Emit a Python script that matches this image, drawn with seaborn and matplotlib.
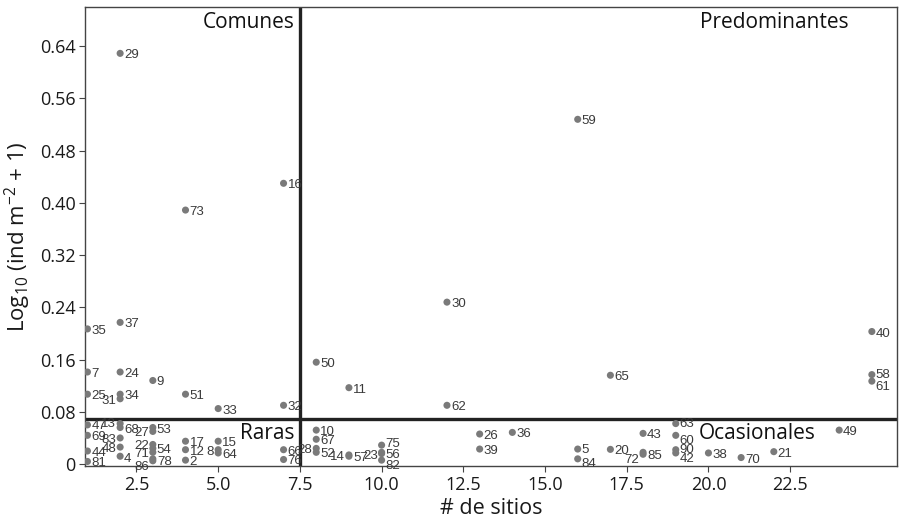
import matplotlib
matplotlib.use("Agg")
import matplotlib.pyplot as plt
import seaborn as sns
import pandas as pd

# ---- data ----
labels = [29, 16, 73, 59, 30, 40, 37, 35, 7, 24, 9, 25, 31, 34, 51, 33, 32, 50, 11, 65, 62, 58, 61,
          49, 63, 60, 43, 5, 84, 20, 72, 85, 90, 42, 38, 70, 21, 26, 36, 39,
          10, 67, 28, 52, 14, 57, 23, 75, 56, 82,
          47, 69, 44, 81, 4, 13, 68, 83, 48, 27, 53, 22, 54, 71, 86, 78,
          17, 12, 2, 8, 15, 64, 66, 76]
sitios = [2, 7, 4, 16, 12, 25, 2, 1, 1, 2, 3, 1, 2, 2, 4, 5, 7, 8, 9, 17, 12, 25, 25,
          24, 19, 19, 18, 16, 16, 17, 18, 18, 19, 19, 20, 21, 22, 13, 14, 13,
          8, 8, 8, 8, 9, 9, 10, 10, 10, 10,
          1, 1, 1, 1, 2, 2, 2, 2, 2, 3, 3, 3, 3, 3, 3, 3,
          4, 4, 4, 5, 5, 5, 7, 7]
densidad = [0.629, 0.430, 0.389, 0.528, 0.248, 0.203, 0.217, 0.207, 0.141, 0.141, 0.128, 0.107, 0.100,
            0.107, 0.107, 0.085, 0.090, 0.156, 0.117, 0.136, 0.090, 0.137, 0.127,
            0.052, 0.062, 0.044, 0.047, 0.023, 0.008, 0.0225, 0.015, 0.018, 0.022, 0.017, 0.017, 0.010,
            0.019, 0.046, 0.0485, 0.023,
            0.052, 0.038, 0.024, 0.018, 0.014, 0.012, 0.016, 0.029, 0.018, 0.006,
            0.060, 0.044, 0.020, 0.004, 0.012, 0.062, 0.056, 0.040, 0.026, 0.050, 0.056, 0.030, 0.024,
            0.018, 0.005, 0.008,
            0.035, 0.022, 0.006, 0.022, 0.035, 0.017, 0.022, 0.007]

x_cut = 7.5
y_cut = 0.069
x_ticks = [2.5, 5.0, 7.5, 10.0, 12.5, 15.0, 17.5, 20.0, 22.5]
y_ticks = [0, 0.08, 0.16, 0.24, 0.32, 0.40, 0.48, 0.56, 0.64]
y_ticklabels = ["0", "0.08", "0.16", "0.24", "0.32", "0.40", "0.48", "0.56", "0.64"]
quadrants = ["Comunes", "Predominantes", "Raras", "Ocasionales"]

# label placement (repel-like): labels set to the left of their point, and small vertical nudges (px)
left_labels = {31, 13, 83, 48, 27, 22, 71, 86, 8, 28, 14, 23, 72}
label_dy = {58: 2, 61: -4, 63: 2, 60: -4, 90: 2, 42: -4, 72: -4, 85: -2, 75: 3, 56: -1, 82: -4,
            5: 1, 84: -3, 47: 1, 13: 2, 4: -1, 86: -4, 78: -1}

df = pd.DataFrame({"label": labels, "sitios": sitios, "dens": densidad})

sns.set_theme(style="white")
plt.rcParams["font.family"] = ["Open Sans", "DejaVu Sans"]
plt.rcParams["mathtext.fontset"] = "custom"
plt.rcParams["mathtext.rm"] = "Open Sans"
plt.rcParams["mathtext.it"] = "Open Sans"

fig = plt.figure(figsize=(8.99, 5.27), dpi=100)
ax = fig.add_axes([0.0951, 0.1157, 0.9027, 0.871])

sns.scatterplot(data=df, x="sitios", y="dens", ax=ax, color="#7a7a7a",
                s=26, edgecolor="none", legend=False, zorder=3)

for lab, xv, yv in zip(df["label"], df["sitios"], df["dens"]):
    dy = -2 + label_dy.get(lab, 0)
    if lab in left_labels:
        dx, ha = -4, "right"
    else:
        dx, ha = 4, "left"
    ax.annotate(str(lab), (xv, yv), xytext=(dx, dy), textcoords="offset pixels",
                ha=ha, va="center", fontsize=9.5, color="#3a3a3a",
                family=["Liberation Sans", "DejaVu Sans"], zorder=4)

ax.axvline(x_cut, color="#222222", lw=2.4, zorder=2)
ax.axhline(y_cut, color="#222222", lw=2.4, zorder=2)

ax.text(7.35, 0.677, quadrants[0], ha="right", va="center", fontsize=15, color="#111111")
ax.text(24.3, 0.677, quadrants[1], ha="right", va="center", fontsize=15, color="#111111")
ax.text(7.35, 0.047, quadrants[2], ha="right", va="center", fontsize=15, color="#111111")
ax.text(19.7, 0.047, quadrants[3], ha="left", va="center", fontsize=15, color="#111111")

ax.set_xlim(0.94, 25.77)
ax.set_ylim(-0.003, 0.70)
ax.set_xticks(x_ticks)
ax.set_xticklabels([f"{t:.1f}" for t in x_ticks])
ax.set_yticks(y_ticks)
ax.set_yticklabels(y_ticklabels)
ax.tick_params(axis="both", which="major", length=4, width=0.8, color="#444444",
               labelsize=13, labelcolor="#1a1a1a", direction="out", bottom=True, left=True, pad=3)
ax.set_xlabel("# de sitios", fontsize=15.5, color="#1a1a1a", labelpad=3)
ax.set_ylabel(r"Log$_{10}$ (ind m$^{-2}$ + 1)", fontsize=16, color="#1a1a1a", labelpad=5)
for sp in ax.spines.values():
    sp.set_color("#444444")
    sp.set_linewidth(1.0)

fig.savefig("out.png", dpi=100)
